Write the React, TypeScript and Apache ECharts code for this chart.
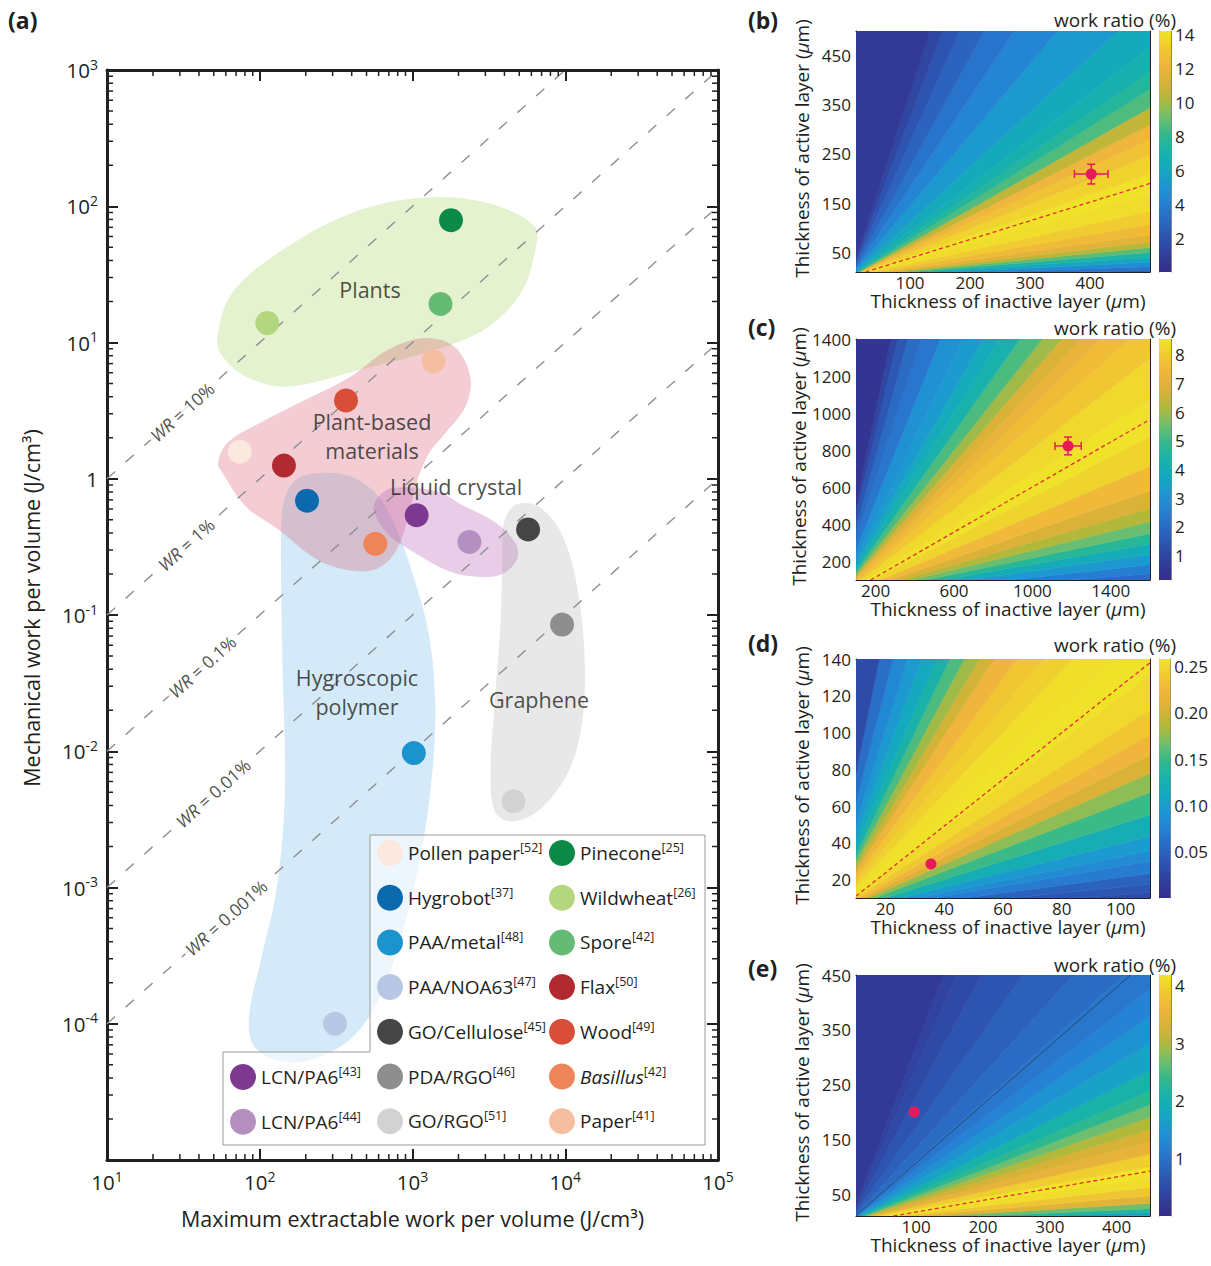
import React, { useEffect, useRef } from 'react';
import * as echarts from 'echarts';

const FONT = '"Open Sans", "Noto Sans", sans-serif';
const INK = '#231f20';

// ================= Panel (a) data =================
const materialNames = [
  'Pollen paper[52]', 'Hygrobot[37]', 'PAA/metal[48]', 'PAA/NOA63[47]', 'GO/Cellulose[45]', 'PDA/RGO[46]', 'GO/RGO[51]',
  'Pinecone[25]', 'Wildwheat[26]', 'Spore[42]', 'Flax[50]', 'Wood[49]', 'Basillus[42]', 'Paper[41]',
  'LCN/PA6[43]', 'LCN/PA6[44]',
];
const maxExtractableWork = [74, 204, 1020, 311, 5710, 9530, 4580, 1787, 112, 1525, 144, 367, 571, 1374, 1065, 2357];
const mechanicalWork = [1.58, 0.69, 0.0097, 0.0001, 0.425, 0.085, 0.0043, 79, 13.9, 19.2, 1.25, 3.76, 0.333, 7.26, 0.54, 0.344];
const materialColors = [
  '#fbe8df', '#0b6aae', '#1b93cd', '#b8c8e4', '#454545', '#8e8e8e', '#d2d2d2',
  '#0b8a47', '#b3d67f', '#66bb74', '#b02a30', '#d94e39', '#ee855a', '#f6bea0',
  '#7d398f', '#b48fbf',
];
const legendColumnLeft = ['LCN/PA6[43]', 'LCN/PA6[44]'];
const legendColumnMiddle = ['Pollen paper[52]', 'Hygrobot[37]', 'PAA/metal[48]', 'PAA/NOA63[47]', 'GO/Cellulose[45]', 'PDA/RGO[46]', 'GO/RGO[51]'];
const legendColumnRight = ['Pinecone[25]', 'Wildwheat[26]', 'Spore[42]', 'Flax[50]', 'Wood[49]', 'Basillus[42]', 'Paper[41]'];

// region outlines (data coordinates)
const hygroOutline = [[138, 0.433], [140, 0.06], [146, 0.00508], [129, 0.000979], [101, 0.000284], [85.3, 0.000115], [90.2, 0.0000703], [129, 0.000054], [224, 0.0000548], [419, 0.0000828], [634, 0.000174], [895, 0.00055], [1180, 0.00223], [1374, 0.00904], [1403, 0.0264], [1265, 0.0769], [993, 0.207], [780, 0.433], [600, 0.741], [396, 1.04], [244, 1.1], [173, 0.984], [145, 0.701]];
const plantsOutline = [[53.3, 11.7], [65.6, 23.0], [131, 45.2], [396, 88.9], [1197, 116], [3148, 105], [6295, 71.0], [6295, 45.2], [5117, 23.0], [2938, 12.4], [1197, 8.36], [455, 6.31], [150, 4.75], [80.7, 5.64], [55.2, 8.36]];
const plantBasedOutline = [[1197, 10.8], [1875, 9.35], [2388, 5.64], [2228, 3.4], [1578, 2.05], [1282, 1.54], [1079, 0.984], [895, 0.433], [728, 0.264], [515, 0.21], [258, 0.243], [129, 0.433], [80.7, 0.627], [57.1, 1.1], [53.3, 1.3], [61.2, 1.83], [99.3, 2.56], [198, 3.79], [396, 5.64], [689, 8.83]];
const liquidCrystalOutline = [[579, 0.701], [738, 0.855], [1472, 0.807], [2051, 0.653], [3573, 0.47], [4710, 0.338], [4875, 0.264], [4102, 0.207], [3105, 0.19], [1786, 0.207], [1028, 0.287], [679, 0.399], [560, 0.578]];
const grapheneOutline = [[3963, 0.47], [4710, 0.643], [6653, 0.627], [9397, 0.399], [11967, 0.161], [13459, 0.0398], [12560, 0.0136], [10069, 0.0065], [6653, 0.00366], [4395, 0.00305], [3451, 0.00366], [3243, 0.00706], [3451, 0.0223], [3776, 0.0906], [3882, 0.264]];

const regionNames = ['Plants', 'Plant-based\nmaterials', 'Liquid crystal', 'Hygroscopic\npolymer', 'Graphene'];
const regionX = [527, 543, 1928, 433, 6730];
const regionY = [24.5, 2.06, 0.871, 0.027, 0.024];

const wrRatios = [0.1, 0.01, 0.001, 0.0001, 0.00001];
const wrTexts = ['10%', '1%', '0.1%', '0.01%', '0.001%'];
const wrLabelX = [31.0, 32.9, 41.9, 49.4, 60.1];

const xDecades = [10, 100, 1000, 10000, 100000];
const yDecades = [0.00001, 0.0001, 0.001, 0.01, 0.1, 1, 10, 100, 1000];

// ================= Heat maps (b)-(e) =================
// work ratio (%) read along rays of constant active/inactive thickness ratio
const bRatio = [0.02, 0.035, 0.05, 0.07, 0.09, 0.11, 0.13, 0.155, 0.19, 0.24, 0.3, 0.38, 0.46, 0.53, 0.59, 0.65, 0.73, 0.8, 0.87, 1.0, 1.25, 1.67, 2.0, 2.5, 3.0, 3.5, 4.0, 1000];
const bWork = [2.5, 3.5, 4.5, 6, 7.3, 8.8, 10.3, 11.6, 12.5, 13.3, 13.9, 14.1, 13.6, 12.9, 12.2, 10.6, 8.6, 7.6, 6.9, 6.3, 5.3, 4.3, 3.5, 2.8, 2.1, 1.4, 0.7, 0.3];
const cRatio = [0.05, 0.07, 0.1, 0.13, 0.17, 0.2, 0.24, 0.28, 0.33, 0.4, 0.5, 0.6, 0.75, 0.875, 1.0, 1.08, 1.17, 1.27, 1.4, 1.6, 1.75, 2.0, 2.33, 3.0, 3.5, 4.2, 4.8, 5.3, 1000];
const cWork = [1.5, 2, 2.5, 3.2, 4, 4.7, 5.5, 6.2, 6.8, 7.5, 8.2, 8.5, 8.3, 7.9, 7.6, 7.2, 6.8, 6.0, 5.2, 4.3, 3.9, 3.3, 3.0, 2.3, 2.0, 1.5, 1.0, 0.4, 0.2];
const dRatio = [0.1, 0.14, 0.18, 0.25, 0.3, 0.35, 0.45, 0.56, 0.67, 0.75, 0.85, 0.95, 1.1, 1.3, 1.55, 1.8, 2.0, 2.33, 2.6, 2.8, 3.2, 3.5, 4.0, 4.7, 5.5, 7.0, 8.7, 1000];
const dWork = [0.03, 0.04, 0.05, 0.07, 0.083, 0.095, 0.12, 0.15, 0.175, 0.205, 0.222, 0.238, 0.25, 0.257, 0.254, 0.245, 0.238, 0.222, 0.2, 0.18, 0.155, 0.13, 0.112, 0.095, 0.08, 0.06, 0.03, 0.012];
const eRatio = [0.02, 0.03, 0.045, 0.06, 0.09, 0.12, 0.16, 0.2, 0.25, 0.3, 0.35, 0.4, 0.45, 0.5, 0.56, 0.67, 0.78, 0.89, 1.0, 1.2, 1.5, 2.0, 2.6, 3.0, 3.4, 1000];
const eWork = [1.3, 1.7, 2.2, 2.7, 3.4, 3.85, 4.1, 4.18, 3.95, 3.5, 3.3, 3.0, 2.7, 2.35, 2.1, 1.7, 1.45, 1.22, 1.08, 0.92, 0.78, 0.62, 0.47, 0.37, 0.22, 0.12];

const bOptimum = [[26, 10], [500, 190]];
const cOptimum = [[175, 100], [1590, 960]];
const dOptimum = [[10, 11], [110, 138]];
const eOptimum = [[66, 10], [450, 92]];
const eContour = [[10, 10.7], [421, 450]];

const bSample = [402, 209, 28, 20];
const cSample = [1182, 823, 67, 48];
const dSample = [35.5, 28.5, 0, 0];
const eSample = [97, 200, 0, 0];

const bXTicks = [100, 200, 300, 400];
const bXLabels = [100, 200, 300, 400];
const bYTicks = [50, 100, 150, 200, 250, 300, 350, 400, 450];
const bYLabels = [50, 150, 250, 350, 450];
const bBarTicks = [2, 4, 6, 8, 10, 12, 14];
const cXTicks = [200, 400, 600, 800, 1000, 1200, 1400];
const cXLabels = [200, 600, 1000, 1400];
const cYTicks = [200, 400, 600, 800, 1000, 1200, 1400];
const cYLabels = [200, 400, 600, 800, 1000, 1200, 1400];
const cBarTicks = [1, 2, 3, 4, 5, 6, 7, 8];
const dXTicks = [20, 40, 60, 80, 100];
const dXLabels = [20, 40, 60, 80, 100];
const dYTicks = [20, 40, 60, 80, 100, 120, 140];
const dYLabels = [20, 40, 60, 80, 100, 120, 140];
const dBarTicks = [0.05, 0.1, 0.15, 0.2, 0.25];
const eXTicks = [50, 100, 150, 200, 250, 300, 350, 400];
const eXLabels = [100, 200, 300, 400];
const eYTicks = [50, 100, 150, 200, 250, 300, 350, 400, 450];
const eYLabels = [50, 150, 250, 350, 450];
const eBarTicks = [1, 2, 3, 4];

const PARULA = ['#352d8c', '#323e9b', '#2d52af', '#2a69c3', '#2680d4', '#1e96d2', '#14a8c0', '#19b2aa', '#32b98c', '#6ebe6e', '#afb93c', '#d7b237', '#f0b43c', '#f0c832', '#f0e428'];

const panels = [
  { letter: '(b)', top: 31, height: 241, xMin: 10, xMax: 500, yMin: 10, yMax: 500, xTicks: bXTicks, xLabels: bXLabels, yTicks: bYTicks, yLabels: bYLabels, cbMin: 0, cbMax: 14.2, cbTicks: bBarTicks, cbDigits: 0, ratio: bRatio, work: bWork, optimum: bOptimum, sample: bSample, contour: null as any, titleY: 20 },
  { letter: '(c)', top: 339, height: 241, xMin: 100, xMax: 1600, yMin: 100, yMax: 1400, xTicks: cXTicks, xLabels: cXLabels, yTicks: cYTicks, yLabels: cYLabels, cbMin: 0.15, cbMax: 8.55, cbTicks: cBarTicks, cbDigits: 0, ratio: cRatio, work: cWork, optimum: cOptimum, sample: cSample, contour: null as any, titleY: 328 },
  { letter: '(d)', top: 659, height: 239, xMin: 10, xMax: 110, yMin: 10, yMax: 140, xTicks: dXTicks, xLabels: dXLabels, yTicks: dYTicks, yLabels: dYLabels, cbMin: 0, cbMax: 0.258, cbTicks: dBarTicks, cbDigits: 2, ratio: dRatio, work: dWork, optimum: dOptimum, sample: dSample, contour: null as any, titleY: 645 },
  { letter: '(e)', top: 975, height: 241, xMin: 10, xMax: 450, yMin: 10, yMax: 450, xTicks: eXTicks, xLabels: eXLabels, yTicks: eYTicks, yLabels: eYLabels, cbMin: 0, cbMax: 4.19, cbTicks: eBarTicks, cbDigits: 0, ratio: eRatio, work: eWork, optimum: eOptimum, sample: eSample, contour: eContour, titleY: 965 },
];

const HEAT_LEFT = 856;
const HEAT_W = 294;
const BAR_LEFT = 1159;
const BAR_W = 12;

function supLabel(v: number) {
  const e = Math.round(Math.log10(v));
  if (e === 0) return '{b|1}';
  return `{b|10}{s|${e}}`;
}
const supRich = {
  b: { fontFamily: FONT, fontSize: 20.5, color: INK, lineHeight: 26 },
  s: { fontFamily: FONT, fontSize: 14, color: INK, lineHeight: 14, verticalAlign: 'top' },
};

function legendFmt(name: string) {
  const m = /^(.*)\[(\d+)\]$/.exec(name);
  if (!m) return name;
  const base = m[1];
  return (base === 'Basillus' ? `{i|${base}}` : `{n|${base}}`) + `{s|[${m[2]}]}`;
}
const legendRich = {
  n: { fontFamily: FONT, fontSize: 19, color: INK, lineHeight: 24 },
  i: { fontFamily: FONT, fontSize: 19, color: INK, lineHeight: 24, fontStyle: 'italic' },
  s: { fontFamily: FONT, fontSize: 12.5, color: INK, lineHeight: 12, verticalAlign: 'top' },
};

const muRich = {
  n: { fontFamily: FONT, fontSize: 19, color: INK },
  i: { fontFamily: FONT, fontSize: 19, color: INK, fontStyle: 'italic' },
};

function buildOption() {
  const grid: any[] = [];
  const xAxis: any[] = [];
  const yAxis: any[] = [];
  const series: any[] = [];
  const visualMap: any[] = [];

  // ---------- panel (a) ----------
  grid.push({ left: 107, top: 70, width: 611, height: 1090 });
  const aLine = { show: true, onZero: false, lineStyle: { color: INK, width: 3 } };
  const aTick = { show: true, inside: true, length: 11, lineStyle: { color: INK, width: 2 } };
  xAxis.push({
    type: 'log', gridIndex: 0, logBase: 10, min: xDecades[0], max: xDecades[xDecades.length - 1], position: 'bottom',
    axisLine: aLine, axisTick: aTick, splitLine: { show: false },
    axisLabel: { show: true, margin: 9, formatter: supLabel, rich: supRich, color: INK },
    name: 'Maximum extractable work per volume (J/cm³)', nameLocation: 'middle', nameGap: 47,
    nameTextStyle: { fontFamily: FONT, fontSize: 21.5, color: INK },
  });
  xAxis.push({
    type: 'log', gridIndex: 0, logBase: 10, min: xDecades[0], max: xDecades[xDecades.length - 1], position: 'top',
    axisLine: aLine, axisTick: aTick, splitLine: { show: false }, axisLabel: { show: false },
  });
  yAxis.push({
    type: 'log', gridIndex: 0, logBase: 10, min: yDecades[0], max: yDecades[yDecades.length - 1], position: 'left',
    axisLine: aLine, axisTick: aTick, splitLine: { show: false },
    axisLabel: { show: true, margin: 9, formatter: (v: number) => (Math.round(Math.log10(v)) === -5 ? '' : supLabel(v)), rich: supRich, color: INK },
    name: 'Mechanical work per volume (J/cm³)', nameLocation: 'middle', nameGap: 65,
    nameTextStyle: { fontFamily: FONT, fontSize: 21.5, color: INK, padding: [0, 0, 0, 14] },
  });
  yAxis.push({
    type: 'log', gridIndex: 0, logBase: 10, min: yDecades[0], max: yDecades[yDecades.length - 1], position: 'right',
    axisLine: aLine, axisTick: aTick, splitLine: { show: false }, axisLabel: { show: false },
  });

  const fills = ['rgba(100,180,230,0.28)', 'rgba(170,215,110,0.32)', 'rgba(215,90,110,0.30)', 'rgba(190,110,190,0.35)', 'rgba(150,150,150,0.22)'];
  [hygroOutline, plantsOutline, plantBasedOutline, liquidCrystalOutline, grapheneOutline].forEach((outline, i) => {
    series.push({
      type: 'custom', xAxisIndex: 0, yAxisIndex: 0, z: 1, silent: true, clip: false,
      data: [outline[0]],
      renderItem: (_p: any, api: any) => ({
        type: 'polygon',
        shape: { points: outline.map((pt) => api.coord(pt)), smooth: 0.35 },
        style: { fill: fills[i] },
      }),
    });
  });

  // WR lines
  const xMin = xDecades[0], xMax = xDecades[xDecades.length - 1], yMax = yDecades[yDecades.length - 1];
  wrRatios.forEach((wr) => {
    const endX = Math.min(xMax, yMax / wr);
    series.push({
      type: 'line', xAxisIndex: 0, yAxisIndex: 0, z: 2, silent: true, symbol: 'none',
      data: [[xMin, xMin * wr], [endX, endX * wr]],
      lineStyle: { color: '#8f8f8f', width: 1.4, type: [11, 14] },
    });
  });
  series.push({
    type: 'scatter', xAxisIndex: 0, yAxisIndex: 0, z: 3, silent: true, symbolSize: 1,
    itemStyle: { color: 'rgba(0,0,0,0)' },
    data: wrLabelX.map((x, i) => [x, x * wrRatios[i]]),
    label: {
      show: true, position: 'inside', rotate: 41.8,
      formatter: (p: any) => `{i|WR} = ${wrTexts[p.dataIndex]}`,
      fontFamily: FONT, fontSize: 17.5, color: INK, backgroundColor: '#fff', padding: [0, 3],
      rich: { i: { fontFamily: FONT, fontSize: 17.5, fontStyle: 'italic', color: INK } },
    },
  });

  // region labels
  series.push({
    type: 'scatter', xAxisIndex: 0, yAxisIndex: 0, z: 3, silent: true, symbolSize: 1,
    itemStyle: { color: 'rgba(0,0,0,0)' },
    data: regionX.map((x, i) => [x, regionY[i]]),
    label: {
      show: true, position: 'inside', formatter: (p: any) => regionNames[p.dataIndex],
      fontFamily: FONT, fontSize: 21.5, lineHeight: 29, color: INK,
    },
  });

  // minor ticks
  const minorData: any[] = [];
  for (let i = 0; i < xDecades.length - 1; i++) for (let m = 2; m <= 9; m++) minorData.push([xDecades[i] * m, 1, 0]);
  for (let i = 0; i < yDecades.length - 1; i++) for (let m = 2; m <= 9; m++) minorData.push([10, yDecades[i] * m, 1]);
  series.push({
    type: 'custom', xAxisIndex: 0, yAxisIndex: 0, z: 4, silent: true, clip: false,
    data: minorData,
    renderItem: (params: any, api: any) => {
      const cs = params.coordSys;
      const st = { stroke: INK, lineWidth: 1.5 };
      const L = 6;
      if (api.value(2) === 0) {
        const px = api.coord([api.value(0), 1])[0];
        return {
          type: 'group', children: [
            { type: 'line', shape: { x1: px, y1: cs.y + cs.height, x2: px, y2: cs.y + cs.height - L }, style: st },
            { type: 'line', shape: { x1: px, y1: cs.y, x2: px, y2: cs.y + L }, style: st },
          ],
        };
      }
      const py = api.coord([10, api.value(1)])[1];
      return {
        type: 'group', children: [
          { type: 'line', shape: { x1: cs.x, y1: py, x2: cs.x + L, y2: py }, style: st },
          { type: 'line', shape: { x1: cs.x + cs.width, y1: py, x2: cs.x + cs.width - L, y2: py }, style: st },
        ],
      };
    },
  });

  // material points
  materialNames.forEach((name, i) => {
    series.push({
      type: 'scatter', name, xAxisIndex: 0, yAxisIndex: 0, z: 5, symbolSize: 24,
      itemStyle: { color: materialColors[i], opacity: 1 },
      data: [[maxExtractableWork[i], mechanicalWork[i]]],
    });
  });

  // ---------- heat maps ----------
  panels.forEach((p) => {
    grid.push({ left: HEAT_LEFT, top: p.top, width: HEAT_W, height: p.height });
  });
  panels.forEach((p) => {
    grid.push({ left: BAR_LEFT, top: p.top, width: BAR_W, height: p.height });
  });

  const plain = (v: number) => String(v);
  panels.forEach((p, k) => {
    const gi = 1 + k;
    const line = { show: true, onZero: false, lineStyle: { color: INK, width: 1 } };
    const labelBase = { fontFamily: FONT, fontSize: 17, color: INK, formatter: plain };
    xAxis.push({
      type: 'value', gridIndex: gi, min: p.xMin, max: p.xMax, position: 'bottom',
      axisLine: line, axisTick: { show: true, inside: true, length: 4, customValues: p.xTicks, lineStyle: { color: INK } },
      axisLabel: { show: true, customValues: p.xLabels, margin: 2, ...labelBase },
      splitLine: { show: false },
      name: '{n|Thickness of inactive layer (}{i|μ}{n|m)}', nameLocation: 'middle', nameGap: 19,
      nameTextStyle: { fontFamily: FONT, fontSize: 19, color: INK, rich: muRich, padding: [0, 0, 0, 10] },
    });
    xAxis.push({
      type: 'value', gridIndex: gi, min: p.xMin, max: p.xMax, position: 'top',
      axisLine: line, axisTick: { show: true, inside: true, length: 4, customValues: p.xTicks, lineStyle: { color: INK } },
      axisLabel: { show: false }, splitLine: { show: false },
    });
    yAxis.push({
      type: 'value', gridIndex: gi, min: p.yMin, max: p.yMax, position: 'left',
      axisLine: line, axisTick: { show: true, inside: true, length: 4, customValues: p.yTicks, lineStyle: { color: INK } },
      axisLabel: { show: true, customValues: p.yLabels, margin: 5, ...labelBase },
      splitLine: { show: false },
      name: '{n|Thickness of active layer (}{i|μ}{n|m)}', nameLocation: 'middle', nameGap: 45,
      nameTextStyle: { fontFamily: FONT, fontSize: 19, color: INK, rich: muRich, padding: [0, 0, 0, 6] },
    });
    yAxis.push({
      type: 'value', gridIndex: gi, min: p.yMin, max: p.yMax, position: 'right',
      axisLine: line, axisTick: { show: true, inside: true, length: 4, customValues: p.yTicks, lineStyle: { color: INK } },
      axisLabel: { show: false }, splitLine: { show: false },
    });
  });
  panels.forEach((p, k) => {
    xAxis.push({ type: 'value', gridIndex: 5 + k, min: 0, max: 1, show: false });
  });
  panels.forEach((p, k) => {
    const bl = { show: true, onZero: false, lineStyle: { color: '#666', width: 0.8 } };
    yAxis.push({
      type: 'value', gridIndex: 5 + k, min: p.cbMin, max: p.cbMax, position: 'right',
      axisLine: bl, axisTick: { show: true, inside: true, length: 3, customValues: p.cbTicks, lineStyle: { color: '#444' } },
      axisLabel: { show: true, customValues: p.cbTicks, margin: 4, fontFamily: FONT, fontSize: 17, color: INK, formatter: (v: number) => v.toFixed(p.cbDigits) },
      splitLine: { show: false },
    });
    yAxis.push({
      type: 'value', gridIndex: 5 + k, min: p.cbMin, max: p.cbMax, position: 'left',
      axisLine: bl, axisTick: { show: true, inside: true, length: 3, customValues: p.cbTicks, lineStyle: { color: '#444' } },
      axisLabel: { show: false }, splitLine: { show: false },
    });
  });

  panels.forEach((p, k) => {
    const xi = 2 + 2 * k;
    const yi = 2 + 2 * k;
    const n = p.ratio.length;
    const wedges = p.ratio.map((r, i) => [
      i === 0 ? 0 : Math.sqrt(p.ratio[i - 1] * r),
      i === n - 1 ? 1e4 : Math.sqrt(r * p.ratio[i + 1]),
      p.work[i],
    ]);
    const far = p.xMax * 20;
    visualMap.push({
      type: 'continuous', show: false, seriesIndex: series.length, dimension: 2,
      min: p.cbMin, max: p.cbMax, inRange: { color: PARULA },
    });
    series.push({
      type: 'custom', xAxisIndex: xi, yAxisIndex: yi, z: 1, silent: true, clip: true,
      data: wedges,
      renderItem: (_params: any, api: any) => {
        const r1 = api.value(0);
        const r2 = api.value(1);
        const col = api.visual('color');
        return {
          type: 'polygon',
          shape: { points: [api.coord([0, 0]), api.coord([far, far * r1]), api.coord([far, far * r2])] },
          style: { fill: col, stroke: col, lineWidth: 0.6 },
        };
      },
    });
    if (p.contour) {
      series.push({
        type: 'line', xAxisIndex: xi, yAxisIndex: yi, z: 3, silent: true, symbol: 'none',
        data: p.contour, lineStyle: { color: '#2a2a3a', width: 0.8, opacity: 0.8 },
      });
    }
    series.push({
      type: 'line', xAxisIndex: xi, yAxisIndex: yi, z: 4, silent: true, symbol: 'none',
      data: p.optimum, lineStyle: { color: '#e8283c', width: 1.3, type: [4, 3] },
    });
    if (p.sample[2] > 0) {
      series.push({
        type: 'custom', xAxisIndex: xi, yAxisIndex: yi, z: 5, silent: true,
        data: [p.sample],
        renderItem: (_params: any, api: any) => {
          const x = api.value(0), y = api.value(1), ex = api.value(2), ey = api.value(3);
          const l = api.coord([x - ex, y]);
          const r = api.coord([x + ex, y]);
          const t = api.coord([x, y + ey]);
          const b = api.coord([x, y - ey]);
          const st = { stroke: '#e8195a', lineWidth: 1.5 };
          const c = 4;
          return {
            type: 'group', children: [
              { type: 'line', shape: { x1: l[0], y1: l[1], x2: r[0], y2: r[1] }, style: st },
              { type: 'line', shape: { x1: t[0], y1: t[1], x2: b[0], y2: b[1] }, style: st },
              { type: 'line', shape: { x1: l[0], y1: l[1] - c, x2: l[0], y2: l[1] + c }, style: st },
              { type: 'line', shape: { x1: r[0], y1: r[1] - c, x2: r[0], y2: r[1] + c }, style: st },
              { type: 'line', shape: { x1: t[0] - c, y1: t[1], x2: t[0] + c, y2: t[1] }, style: st },
              { type: 'line', shape: { x1: b[0] - c, y1: b[1], x2: b[0] + c, y2: b[1] }, style: st },
            ],
          };
        },
      });
    }
    series.push({
      type: 'scatter', xAxisIndex: xi, yAxisIndex: yi, z: 6, silent: true, symbolSize: 11,
      itemStyle: { color: '#e8195a', opacity: 1 }, data: [[p.sample[0], p.sample[1]]],
    });
    // colour bar
    const stops = PARULA.map((c, i) => ({ offset: i / (PARULA.length - 1), color: PARULA[PARULA.length - 1 - i] }));
    series.push({
      type: 'custom', xAxisIndex: 10 + k, yAxisIndex: 10 + 2 * k, z: 1, silent: true,
      data: [[0.5, (p.cbMin + p.cbMax) / 2]],
      renderItem: (_params: any, api: any) => {
        const a = api.coord([0, p.cbMax]);
        const b = api.coord([1, p.cbMin]);
        return {
          type: 'rect',
          shape: { x: a[0], y: a[1], width: b[0] - a[0], height: b[1] - a[1] },
          style: { fill: new echarts.graphic.LinearGradient(0, 0, 0, 1, stops) },
        };
      },
    });
  });

  const graphicEls: any[] = [
    {
      type: 'polygon', z: 6, silent: true,
      shape: { points: [[370, 835], [705, 835], [705, 1145], [223, 1145], [223, 1052], [370, 1052]] },
      style: { fill: 'rgba(255,255,255,0.55)', stroke: '#9a9a9a', lineWidth: 1 },
    },
    { type: 'text', z: 10, style: { x: 8, y: 20, text: '(a)', fontFamily: FONT, fontSize: 23, fontWeight: 'bold', fill: INK, align: 'left', verticalAlign: 'middle', textAlign: 'left', textVerticalAlign: 'middle' } },
  ];
  const letterY = [20, 327, 643, 968];
  panels.forEach((p, k) => {
    graphicEls.push({ type: 'text', z: 10, style: { x: 748, y: letterY[k], text: p.letter, fontFamily: FONT, fontSize: 23, fontWeight: 'bold', fill: INK, align: 'left', verticalAlign: 'middle', textAlign: 'left', textVerticalAlign: 'middle' } });
    graphicEls.push({ type: 'text', z: 10, style: { x: 1176, y: p.titleY, text: 'work ratio (%)', fontFamily: FONT, fontSize: 19, fill: INK, align: 'right', verticalAlign: 'middle', textAlign: 'right', textVerticalAlign: 'middle' } });
  });

  const legendBase = {
    orient: 'vertical', itemWidth: 26, itemHeight: 26, itemGap: 18.7, icon: 'circle', selectedMode: false, padding: 0, z: 8,
    formatter: legendFmt, textStyle: { color: INK, fontFamily: FONT, fontSize: 19, rich: legendRich },
  };

  return {
    animation: false,
    textStyle: { fontFamily: FONT },
    grid, xAxis, yAxis, series, visualMap,
    legend: [
      { ...legendBase, data: legendColumnMiddle, left: 377, top: 840 },
      { ...legendBase, data: legendColumnRight, left: 549, top: 840 },
      { ...legendBase, data: legendColumnLeft, left: 230, top: 1064 },
    ],
    graphic: { elements: graphicEls },
  };
}

export default function App() {
  const ref = useRef<HTMLDivElement>(null);
  useEffect(() => {
    if (!ref.current) return;
    const chart = echarts.init(ref.current, undefined, { renderer: 'svg' });
    chart.setOption(buildOption() as any);
    return () => chart.dispose();
  }, []);
  return <div ref={ref} style={{ position: 'absolute', left: 0, top: 0, width: 1211, height: 1266, background: '#fff' }} />;
}
